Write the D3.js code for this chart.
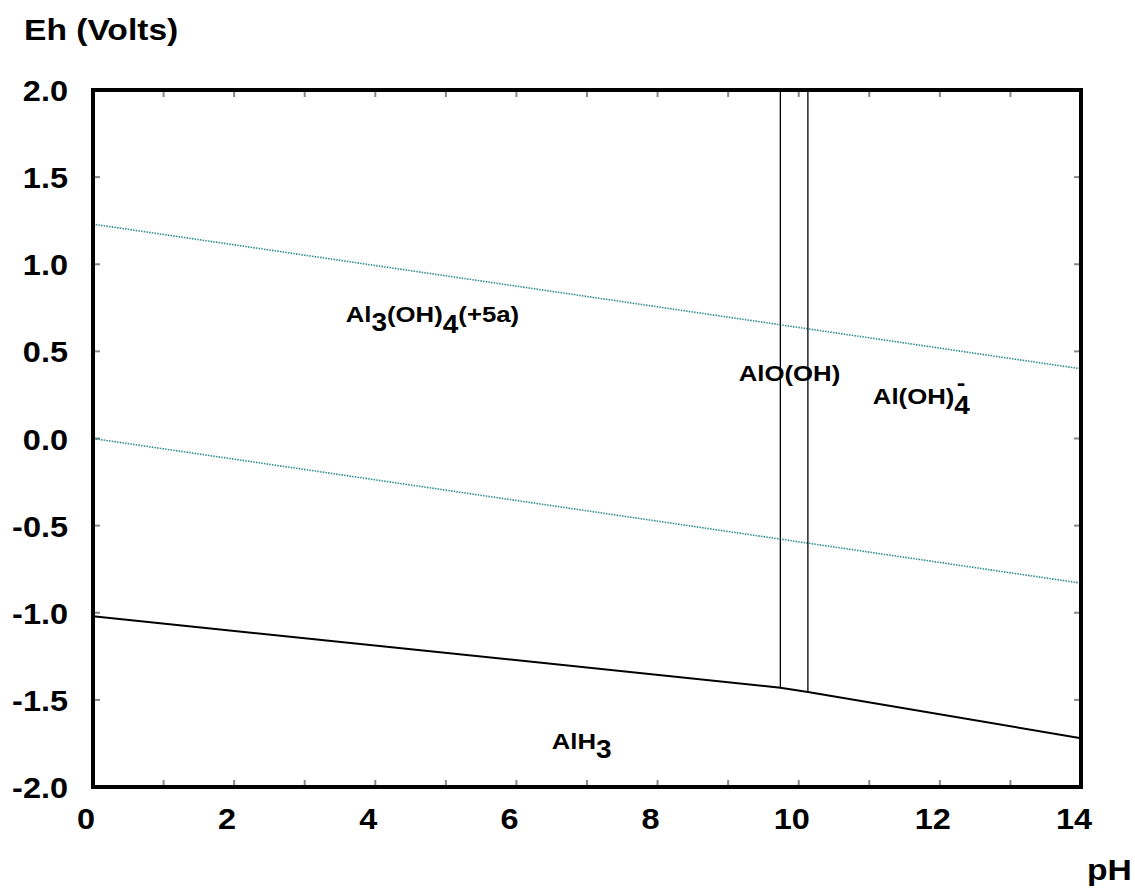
<!DOCTYPE html>
<html>
<head>
<meta charset="utf-8">
<script src="https://cdn.jsdelivr.net/npm/d3@7"></script>
<style>
  body { margin: 0; background: #fff; }
  text { font-family: "Liberation Sans", Arial, sans-serif; font-weight: bold; fill: #000; }
</style>
</head>
<body>
<div id="chart"></div>
<script>
// axis ticks
const xTicks = [0, 1, 2, 3, 4, 5, 6, 7, 8, 9, 10, 11, 12, 13, 14];
const xLabels = [0, 2, 4, 6, 8, 10, 12, 14];
const yTicks = [-2.0, -1.5, -1.0, -0.5, 0.0, 0.5, 1.0, 1.5, 2.0];

// water stability lines (pH, Eh)
const upperWater = [[0, 1.23], [14, 0.40]];
const lowerWater = [[0, 0.0], [14, -0.83]];

// AlH3 boundary (pH, Eh)
const hydrideLine = [[0, -1.02], [9.74, -1.43], [10.13, -1.455], [14, -1.72]];

// vertical boundaries: pH, Eh bottom
const verticals = [[9.74, -1.43], [10.13, -1.455]];

// species labels: pH, Eh, parts [text, shift]
const labels = [
  { ph: 3.58, eh: 0.67, parts: [["Al", 0], ["3", 9], ["(OH)", -9], ["4", 11], ["(+5a)", -11]] },
  { ph: 9.15, eh: 0.33, parts: [["AlO(OH)", 0]] },
  { ph: 11.05, eh: 0.20, parts: [["Al(OH)", 0], ["4", 10]], sup: "-" },
  { ph: 6.5, eh: -1.78, parts: [["AlH", 0], ["3", 9]] }
];

const width = 1135, height = 889;
const margin = { left: 93, right: 54, top: 90, bottom: 102 };
const stretch = 1.12; // the original font renders wider

const svg = d3.select("#chart").append("svg")
  .attr("width", width)
  .attr("height", height);

const x = d3.scaleLinear().domain([0, 14]).range([margin.left, width - margin.right]);
const y = d3.scaleLinear().domain([-2, 2]).range([height - margin.bottom, margin.top]);

const place = (px, py) => `translate(${px},${py}) scale(${stretch},1)`;

// ticks (inward, grey)
svg.append("g")
  .selectAll("line")
  .data(xTicks)
  .join("line")
  .attr("x1", d => x(d)).attr("x2", d => x(d))
  .attr("y1", y(-2)).attr("y2", y(-2) - 7)
  .attr("stroke", "#888").attr("stroke-width", 2);

svg.append("g")
  .selectAll("line")
  .data(xTicks)
  .join("line")
  .attr("x1", d => x(d)).attr("x2", d => x(d))
  .attr("y1", y(2)).attr("y2", y(2) + 7)
  .attr("stroke", "#888").attr("stroke-width", 2);

svg.append("g")
  .selectAll("line")
  .data(yTicks)
  .join("line")
  .attr("x1", x(0)).attr("x2", x(0) + 7)
  .attr("y1", d => y(d)).attr("y2", d => y(d))
  .attr("stroke", "#888").attr("stroke-width", 2);

svg.append("g")
  .selectAll("line")
  .data(yTicks)
  .join("line")
  .attr("x1", x(14)).attr("x2", x(14) - 7)
  .attr("y1", d => y(d)).attr("y2", d => y(d))
  .attr("stroke", "#888").attr("stroke-width", 2);

// tick labels
svg.append("g")
  .selectAll("text")
  .data(xLabels)
  .join("text")
  .attr("transform", d => place(x(d) - 7, 829))
  .attr("text-anchor", "middle")
  .attr("font-size", 29)
  .text(d => d);

svg.append("g")
  .selectAll("text")
  .data(yTicks)
  .join("text")
  .attr("transform", d => place(68, y(d) + 11))
  .attr("text-anchor", "end")
  .attr("font-size", 29)
  .text(d => d3.format(".1f")(d).replace("−", "-"));

// axis titles
svg.append("text").attr("transform", place(24, 40)).attr("font-size", 30).text("Eh (Volts)");
svg.append("text").attr("transform", place(1087, 880)).attr("font-size", 30).text("pH");

const line = d3.line().x(d => x(d[0])).y(d => y(d[1]));

// water lines (dotted teal)
[upperWater, lowerWater].forEach(w => {
  svg.append("path")
    .attr("d", line(w))
    .attr("fill", "none")
    .attr("stroke", "#2f8f8f")
    .attr("stroke-width", 1.6)
    .attr("stroke-dasharray", "1.5,1.2");
});

// hydride boundary
svg.append("path")
  .attr("d", line(hydrideLine))
  .attr("fill", "none")
  .attr("stroke", "#000")
  .attr("stroke-width", 2);

// vertical boundaries
svg.append("g")
  .selectAll("line")
  .data(verticals)
  .join("line")
  .attr("x1", d => x(d[0])).attr("x2", d => x(d[0]))
  .attr("y1", y(2)).attr("y2", d => y(d[1]))
  .attr("stroke", "#000")
  .attr("stroke-width", 1.3);

// frame
svg.append("rect")
  .attr("x", x(0)).attr("y", y(2))
  .attr("width", x(14) - x(0))
  .attr("height", y(-2) - y(2))
  .attr("fill", "none")
  .attr("stroke", "#000")
  .attr("stroke-width", 4);

// species labels
labels.forEach(l => {
  const g = svg.append("g").attr("transform", place(x(l.ph), y(l.eh)));
  const t = g.append("text").attr("font-size", 23);
  l.parts.forEach(([s, shift]) => {
    t.append("tspan").attr("dy", shift).attr("font-size", shift > 0 ? 25 : 23).text(s);
  });
  if (l.sup) {
    const bb = t.node().getBBox();
    g.append("text")
      .attr("x", bb.x + bb.width - 12)
      .attr("y", -14)
      .attr("font-size", 23)
      .text(l.sup);
  }
});
</script>
</body>
</html>
